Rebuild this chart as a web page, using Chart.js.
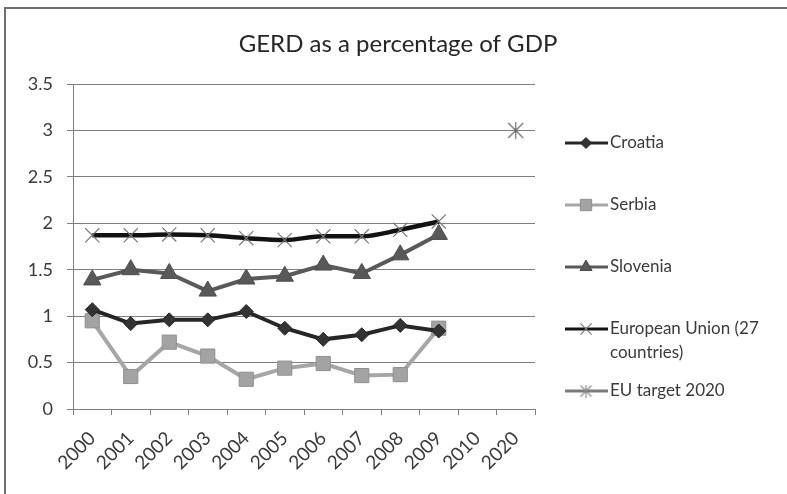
<!DOCTYPE html>
<html>
<head>
<meta charset="utf-8">
<script src="https://cdn.jsdelivr.net/npm/chart.js@4"></script>
<style>
  html, body { margin: 0; padding: 0; background: #fff; }
  #wrap { position: relative; width: 787px; height: 494px; }
</style>
</head>
<body>
<div id="wrap"><canvas id="gerd"></canvas></div>
<script>
(function() {
    'use strict';

    var titleText = 'GERD as a percentage of GDP';
    var years = ['2000', '2001', '2002', '2003', '2004', '2005', '2006', '2007', '2008', '2009', '2010', '2020'];
    var yTicks = [0, 0.5, 1, 1.5, 2, 2.5, 3, 3.5];

    var croatia  = [1.07, 0.92, 0.96, 0.96, 1.05, 0.87, 0.75, 0.80, 0.90, 0.84, null, null];
    var serbia   = [0.95, 0.35, 0.72, 0.57, 0.32, 0.44, 0.49, 0.36, 0.37, 0.87, null, null];
    var slovenia = [1.39, 1.50, 1.46, 1.27, 1.40, 1.43, 1.55, 1.46, 1.66, 1.88, null, null];
    var eu27     = [1.87, 1.87, 1.88, 1.87, 1.84, 1.82, 1.86, 1.86, 1.93, 2.02, null, null];
    var euTarget = [null, null, null, null, null, null, null, null, null, null, null, 3];

    var FONT = 'Lato, "Open Sans", sans-serif';
    var TEXT = '#3a3a3a';

    // asterisk-like marker (X with a vertical stroke)
    function starMarker(size, color) {
        var c = document.createElement('canvas');
        c.width = size; c.height = size;
        var g = c.getContext('2d');
        var h = size / 2;
        g.strokeStyle = color;
        g.lineWidth = 1.2;
        g.beginPath();
        g.moveTo(1, 1); g.lineTo(size - 1, size - 1);
        g.moveTo(size - 1, 1); g.lineTo(1, size - 1);
        g.moveTo(h, 0); g.lineTo(h, size);
        g.stroke();
        return c;
    }

    var frameAndLegend = {
        id: 'frameAndLegend',
        beforeDraw: function(chart) {
            var ctx = chart.ctx;
            ctx.save();
            ctx.strokeStyle = '#6f6f6f';
            ctx.lineWidth = 2;
            ctx.beginPath();
            ctx.moveTo(5, 494);
            ctx.lineTo(5, 8);
            ctx.lineTo(787, 8);
            ctx.stroke();
            ctx.restore();
        },
        afterDraw: function(chart) {
            var ctx = chart.ctx;
            ctx.save();
            ctx.fillStyle = '#262626';
            ctx.font = '24px ' + FONT;
            ctx.textAlign = 'center';
            ctx.textBaseline = 'middle';
            ctx.fillText(titleText, 398, 44);

            ctx.font = '17px ' + FONT;
            ctx.textAlign = 'left';
            var y = 143;
            chart.data.datasets.forEach(function(ds) {
                ctx.strokeStyle = ds.borderColor;
                ctx.lineWidth = 3;
                ctx.beginPath();
                ctx.moveTo(565, y);
                ctx.lineTo(608, y);
                ctx.stroke();
                if (ds.legendMarker) {
                    ctx.drawImage(ds.legendMarker, 586 - ds.legendMarker.width / 2, y - ds.legendMarker.height / 2);
                } else {
                    ctx.fillStyle = ds.pointBackgroundColor;
                    ctx.strokeStyle = ds.pointBorderColor;
                    ctx.lineWidth = ds.pointBorderWidth;
                    Chart.helpers.drawPoint(ctx, {
                        pointStyle: ds.pointStyle,
                        radius: ds.legendRadius,
                        rotation: 0,
                        borderWidth: ds.pointBorderWidth
                    }, 586, y);
                }
                ctx.fillStyle = TEXT;
                ds.legendLines.forEach(function(line, i) {
                    ctx.fillText(line, 610, y + i * 24);
                });
                y += 62;
            });
            ctx.restore();
        }
    };

    var ctx = document.getElementById('gerd').getContext('2d');
    new Chart(ctx, {
        type: 'line',
        data: {
            labels: years,
            datasets: [{
                label: 'Croatia',
                legendLines: ['Croatia'],
                data: croatia,
                borderColor: '#262626',
                borderWidth: 4,
                pointStyle: 'rectRot',
                pointRadius: 7,
                legendRadius: 5.5,
                pointBackgroundColor: '#333333',
                pointBorderColor: '#262626',
                pointBorderWidth: 1,
                tension: 0
            }, {
                label: 'Serbia',
                legendLines: ['Serbia'],
                data: serbia,
                borderColor: '#a6a6a6',
                borderWidth: 4,
                pointStyle: 'rect',
                pointRadius: 10,
                legendRadius: 8,
                pointBackgroundColor: '#a3a3a3',
                pointBorderColor: '#8f8f8f',
                pointBorderWidth: 1,
                tension: 0
            }, {
                label: 'Slovenia',
                legendLines: ['Slovenia'],
                data: slovenia,
                borderColor: '#595959',
                borderWidth: 4,
                pointStyle: 'triangle',
                pointRadius: 10,
                legendRadius: 7,
                pointBackgroundColor: '#595959',
                pointBorderColor: '#4d4d4d',
                pointBorderWidth: 1,
                tension: 0
            }, {
                label: 'European Union (27 countries)',
                legendLines: ['European Union (27', 'countries)'],
                data: eu27,
                borderColor: '#121212',
                borderWidth: 4.5,
                pointStyle: 'crossRot',
                pointRadius: 10,
                legendRadius: 8,
                pointBackgroundColor: '#7a7a7a',
                pointBorderColor: '#7a7a7a',
                pointBorderWidth: 1.2,
                cubicInterpolationMode: 'monotone'
            }, {
                label: 'EU target 2020',
                legendLines: ['EU target 2020'],
                data: euTarget,
                borderColor: '#7a7a7a',
                borderWidth: 3,
                pointStyle: starMarker(17, '#6a6a6a'),
                legendMarker: starMarker(13, '#8a8a8a'),
                pointRadius: 9,
                showLine: false
            }]
        },
        options: {
            responsive: true,
            maintainAspectRatio: false,
            animation: false,
            layout: { padding: { top: 84, left: 0, right: 252, bottom: 0 } },
            plugins: {
                legend: { display: false },
                title: { display: false },
                tooltip: { enabled: false }
            },
            scales: {
                x: {
                    offset: true,
                    grid: {
                        offset: true,
                        drawOnChartArea: false,
                        drawTicks: true,
                        tickLength: 6,
                        color: '#7f7f7f'
                    },
                    border: { color: '#7f7f7f', width: 1 },
                    ticks: {
                        color: TEXT,
                        font: { family: FONT, size: 19 },
                        minRotation: 45,
                        maxRotation: 45,
                        autoSkip: false,
                        padding: 12
                    },
                    afterFit: function(scale) { scale.height = 85; }
                },
                y: {
                    min: 0,
                    max: 3.5,
                    afterBuildTicks: function(scale) {
                        scale.ticks = yTicks.map(function(v) { return { value: v }; });
                    },
                    grid: {
                        color: '#7f7f7f',
                        lineWidth: 1,
                        tickLength: 6
                    },
                    border: { color: '#7f7f7f', width: 1 },
                    ticks: {
                        color: TEXT,
                        font: { family: FONT, size: 18 },
                        padding: 14,
                        callback: function(v) { return String(v); }
                    },
                    afterFit: function(scale) { scale.width = 73; }
                }
            }
        },
        plugins: [frameAndLegend]
    });
})();
</script>
</body>
</html>
